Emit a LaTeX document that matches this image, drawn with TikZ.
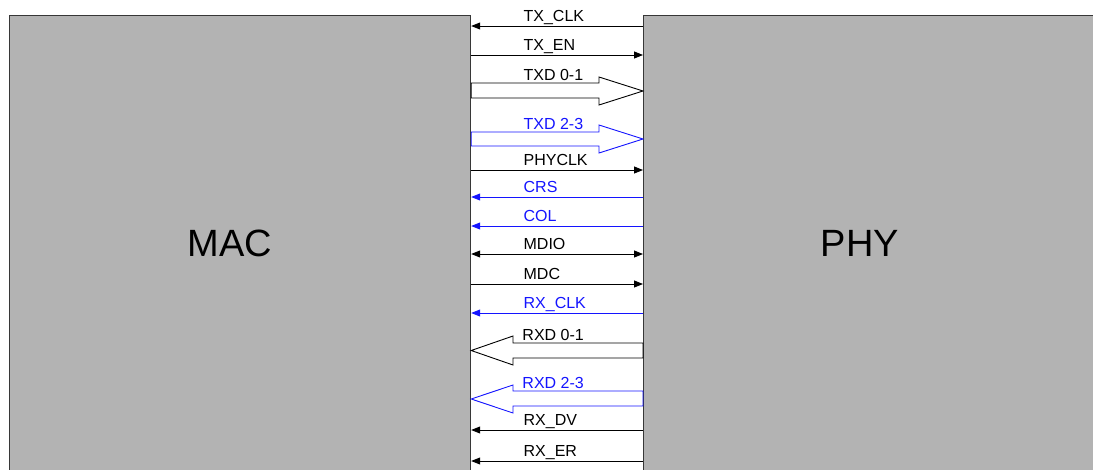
\documentclass[tikz,border=0pt]{standalone}
\usepackage{fontspec}
\setmainfont{Liberation Sans}
\usetikzlibrary{arrows.meta}
\definecolor{boxgray}{RGB}{179,179,179}
\definecolor{edgegray}{RGB}{55,55,55}
\definecolor{sigblue}{RGB}{20,20,255}

\begin{document}
\begin{tikzpicture}[x=1pt, y=-1pt,
    block/.style={draw=edgegray, fill=boxgray, line width=1.2pt, rectangle, inner sep=0pt, anchor=north west},
    blocktext/.style={inner sep=0pt, font=\fontsize{38}{44}\selectfont},
    sig/.style={line width=0.9pt, >={Triangle[length=9pt,width=7pt]}},
    bus/.style={line width=0.9pt},
    lbl/.style={anchor=base west, inner sep=0pt, font=\fontsize{16}{19}\selectfont},
    sigl/.style={lbl, pos=0, xshift=52pt, yshift=4.5pt},
    busl/.style={lbl, pos=0, xshift=52pt, yshift=3pt},
    rbusl/.style={lbl, pos=0, xshift=9pt, yshift=3pt}]
    \clip (0,0) rectangle (1093,469);
    % Blocks:
    \node[block, minimum width=461pt, minimum height=480pt] (mac) at (9,15) {};
    \node[block, minimum width=470pt, minimum height=480pt] (phy) at (643,15) {};
    \node[blocktext] (mactext) at (230,243) {MAC};
    \node[blocktext] (phytext) at (860,243) {PHY};
    % Transmit side:
    \draw[sig, <-] (mac.east |- 0,26) -- node[sigl] {TX\_CLK} (phy.west |- 0,26);
    \draw[sig, ->] (mac.east |- 0,55) -- node[sigl] {TX\_EN} (phy.west |- 0,55);
    \draw[bus] (mac.east |- 0,83) -- node[busl] {TXD 0-1} (599,83) -- (599,77) -- (phy.west |- 0,91)
        -- (599,105) -- (599,98) -- (mac.east |- 0,98) -- cycle;
    \draw[bus, sigblue] (mac.east |- 0,132) -- node[busl] {TXD 2-3} (599,132) -- (599,125) -- (phy.west |- 0,139)
        -- (599,153) -- (599,146) -- (mac.east |- 0,146) -- cycle;
    \draw[sig, ->] (mac.east |- 0,170) -- node[sigl] {PHYCLK} (phy.west |- 0,170);
    % Status and management:
    \draw[sig, sigblue, <-] (mac.east |- 0,197) -- node[sigl] {CRS} (phy.west |- 0,197);
    \draw[sig, sigblue, <-] (mac.east |- 0,226) -- node[sigl] {COL} (phy.west |- 0,226);
    \draw[sig, <->] (mac.east |- 0,254) -- node[sigl] {MDIO} (phy.west |- 0,254);
    \draw[sig, ->] (mac.east |- 0,284) -- node[sigl] {MDC} (phy.west |- 0,284);
    % Receive side:
    \draw[sig, sigblue, <-] (mac.east |- 0,313) -- node[sigl] {RX\_CLK} (phy.west |- 0,313);
    \draw[bus] (513,343) -- node[rbusl] {RXD 0-1} (phy.west |- 0,343) -- (phy.west |- 0,358) -- (513,358)
        -- (513,365) -- (mac.east |- 0,350.5) -- (513,336) -- cycle;
    \draw[bus, sigblue] (513,391) -- node[rbusl] {RXD 2-3} (phy.west |- 0,391) -- (phy.west |- 0,406) -- (513,406)
        -- (513,413) -- (mac.east |- 0,399) -- (513,385) -- cycle;
    \draw[sig, <-] (mac.east |- 0,430) -- node[sigl] {RX\_DV} (phy.west |- 0,430);
    \draw[sig, <-] (mac.east |- 0,461) -- node[sigl] {RX\_ER} (phy.west |- 0,461);
\end{tikzpicture}
\end{document}
